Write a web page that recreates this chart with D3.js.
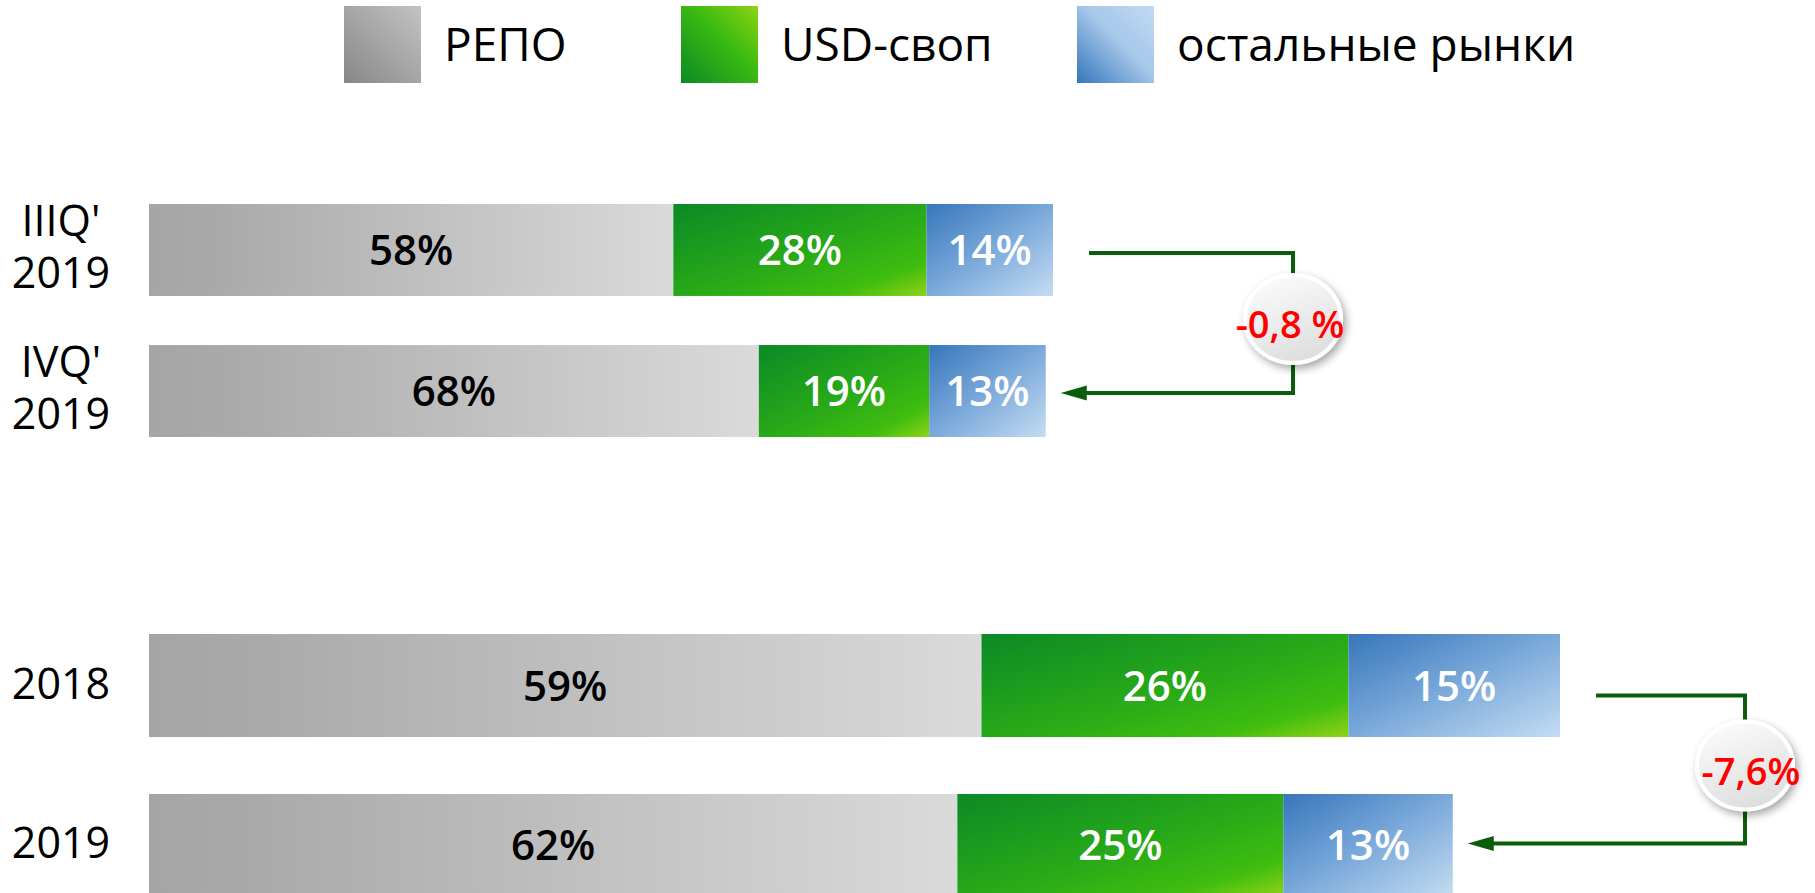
<!DOCTYPE html>
<html>
<head>
<meta charset="utf-8">
<script src="https://cdn.jsdelivr.net/npm/d3@7"></script>
<style>
  html, body { margin: 0; padding: 0; background: #fff; }
  svg { display: block; font-family: "Open Sans", sans-serif; }
</style>
</head>
<body>
<svg width="1815" height="893"></svg>
<script>
// values
var categories = [["IIIQ'", "2019"], ["IVQ'", "2019"], ["2018"], ["2019"]];
var groups = ["quarter", "quarter", "year", "year"];
var seriesNames = ["РЕПО", "USD-своп", "остальные рынки"];
var repo = [58, 68, 59, 62];
var usdSwap = [28, 19, 26, 25];
var otherMarkets = [14, 13, 15, 13];
var volume = [100, 99.2, 100, 92.4]; // bar length, first bar of each pair = 100
var changeLabels = ["-0,8 %", "-7,6%"];

var svg = d3.select("svg");

var x = {
	quarter: d3.scaleLinear().domain([0, 100]).range([149, 1053]),
	year: d3.scaleLinear().domain([0, 100]).range([149, 1560])
};
var y = {
	quarter: d3.scaleBand().domain([0, 1]).range([204, 437]).paddingInner(0.348),
	year: d3.scaleBand().domain([2, 3]).range([634, 897]).paddingInner(0.356)
};

var defs = svg.append("defs");

function gradient(id, x1, y1, x2, y2, stops) {
	var g = defs.append("linearGradient").attr("id", id)
		.attr("x1", x1).attr("y1", y1).attr("x2", x2).attr("y2", y2);
	g.selectAll("stop").data(stops).enter().append("stop")
		.attr("offset", function(d) { return d[0]; })
		.attr("stop-color", function(d) { return d[1]; });
}

// bar fills
gradient("bar0", 0, 0, 1, 0, [[0, "#a5a5a5"], [0.12, "#a9a9a9"], [1, "#dadada"]]);
gradient("bar1", 0, 0, 1, 1, [[0, "#0a8a26"], [0.55, "#2aab17"], [0.82, "#40bd10"], [1, "#8fd314"]]);
gradient("bar2", 0, 0, 1, 1, [[0, "#3776bb"], [0.5, "#7aa9da"], [1, "#c4dcf2"]]);
// legend fills
gradient("leg0", 1, 0, 0, 1, [[0, "#c3c3c3"], [1, "#878787"]]);
gradient("leg1", 1, 0, 0, 1, [[0, "#8ed413"], [0.4, "#40bd10"], [1, "#0a8a26"]]);
gradient("leg2", 1, 0, 0, 1, [[0, "#c2daf0"], [0.45, "#a6c8ea"], [1, "#3576bb"]]);
// bubble
gradient("bubble", 0.3, 0, 0.7, 1, [[0, "#fbfbfb"], [1, "#dcdcdc"]]);

var shadow = defs.append("filter").attr("id", "shadow")
	.attr("x", "-40%").attr("y", "-40%").attr("width", "180%").attr("height", "180%");
shadow.append("feDropShadow").attr("dx", 3).attr("dy", 4).attr("stdDeviation", 4)
	.attr("flood-color", "#000").attr("flood-opacity", 0.35);

// legend
var legendX = [344, 681, 1077];
var legend = svg.append("g").attr("class", "legend")
	.selectAll("g").data(seriesNames)
	.enter().append("g")
		.attr("transform", function(d, i) { return "translate(" + legendX[i] + ",6)"; });

legend.append("rect")
	.attr("width", 77).attr("height", 77)
	.attr("fill", function(d, i) { return "url(#leg" + i + ")"; });

legend.append("text")
	.attr("x", 100).attr("y", 55)
	.attr("font-size", 46)
	.attr("fill", "#000")
	.text(function(d) { return d; });

// rows
var rows = categories.map(function(c, i) {
	var vals = [repo[i], usdSwap[i], otherMarkets[i]];
	var cum = 0;
	var segs = vals.map(function(v, k) {
		var s = { k: k, v: v, a: cum * volume[i] / 100, b: (cum + v) * volume[i] / 100, g: groups[i] };
		cum += v;
		return s;
	});
	return { i: i, label: c, g: groups[i], total: volume[i], segs: segs };
});

var row = svg.append("g").attr("class", "rows")
	.selectAll("g").data(rows)
	.enter().append("g")
		.attr("transform", function(d) { return "translate(0," + y[d.g](d.i) + ")"; });

row.selectAll("rect").data(function(d) { return d.segs; })
	.enter().append("rect")
		.attr("x", function(d) { return x[d.g](d.a); })
		.attr("width", function(d) { return x[d.g](d.b) - x[d.g](d.a); })
		.attr("height", function(d) { return y[d.g].bandwidth(); })
		.attr("fill", function(d) { return "url(#bar" + d.k + ")"; });

row.selectAll("text.val").data(function(d) { return d.segs; })
	.enter().append("text")
		.attr("class", "val")
		.attr("x", function(d) { return (x[d.g](d.a) + x[d.g](d.b)) / 2; })
		.attr("y", function(d) { return y[d.g].bandwidth() / 2 + 15; })
		.attr("text-anchor", "middle")
		.attr("font-size", 42)
		.attr("font-weight", 600)
		.attr("fill", function(d) { return d.k == 0 ? "#000" : "#fff"; })
		.text(function(d) { return d.v + "%"; });

// category labels, one text per line
row.selectAll("text.cat").data(function(d) {
		var mid = y[d.g].bandwidth() / 2;
		return d.label.map(function(t, j) {
			var yy = d.label.length == 1 ? mid + 13 : mid - 14 + j * 52;
			return { t: t, y: yy };
		});
	})
	.enter().append("text")
		.attr("class", "cat")
		.attr("x", 61)
		.attr("y", function(d) { return d.y; })
		.attr("text-anchor", "middle")
		.attr("font-size", 43)
		.attr("fill", "#000")
		.text(function(d) { return d.t; });

// change connectors
var links = [
	{ from: 0, to: 1, bend: 240, y0: 3, y1: 2, text: changeLabels[0] },
	{ from: 2, to: 3, bend: 185, y0: 10, y1: -2, text: changeLabels[1] }
];

var green = "#0b5c0b";
var link = svg.append("g").attr("class", "links")
	.selectAll("g").data(links)
	.enter().append("g");

link.each(function(d) {
	var r0 = rows[d.from], r1 = rows[d.to];
	var sx = x[r0.g];
	var yA = y[r0.g](r0.i) + y[r0.g].bandwidth() / 2 + d.y0;
	var yB = y[r1.g](r1.i) + y[r1.g].bandwidth() / 2 + d.y1;
	var xA = sx(r0.total) + 36;
	var xV = sx(r0.total) + d.bend;
	var tip = sx(r1.total) + 15;
	d.cx = xV; d.cy = (yA + yB) / 2 - 4;

	var g = d3.select(this);
	g.append("path")
		.attr("d", "M" + xA + "," + yA + "H" + xV + "V" + yB + "H" + (tip + 20))
		.attr("fill", "none")
		.attr("stroke", green)
		.attr("stroke-width", 4);
	g.append("path")
		.attr("d", "M" + tip + "," + yB + "L" + (tip + 26) + "," + (yB - 7.5) + "L" + (tip + 26) + "," + (yB + 7.5) + "Z")
		.attr("fill", green);

	g.append("ellipse")
		.attr("cx", d.cx).attr("cy", d.cy)
		.attr("rx", 48).attr("ry", 44)
		.attr("fill", "url(#bubble)")
		.attr("stroke", "#fff")
		.attr("stroke-width", 4)
		.attr("filter", "url(#shadow)");

	g.append("text")
		.attr("x", d.cx + (d.from == 0 ? -3 : 6))
		.attr("y", d.cy + 19)
		.attr("text-anchor", "middle")
		.attr("font-size", 38)
		.attr("font-weight", 600)
		.attr("fill", "#ff0000")
		.text(d.text);
});
</script>
</body>
</html>
